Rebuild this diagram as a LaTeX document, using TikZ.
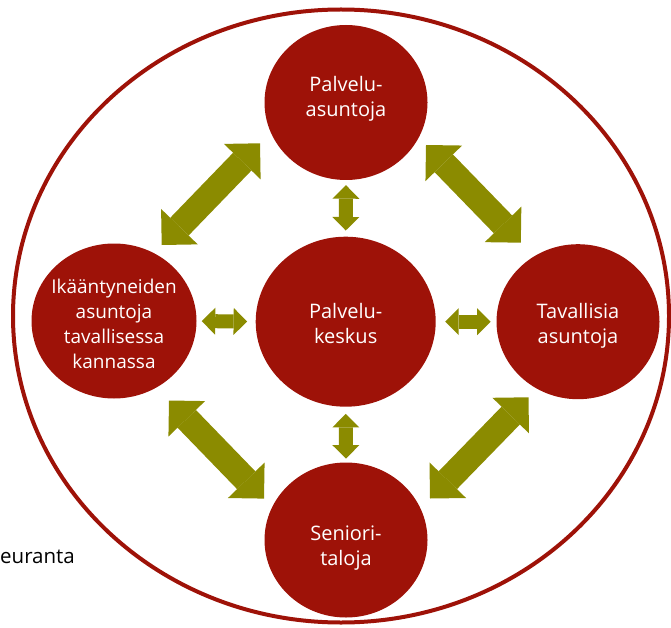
\documentclass[tikz,border=0pt]{standalone}
\usepackage{fontspec}
\setmainfont{Open Sans}
\usetikzlibrary{calc}
\usetikzlibrary{shapes.geometric}
\usetikzlibrary{arrows.meta}

\definecolor{palred}{RGB}{158,18,8}
\definecolor{palolive}{RGB}{139,139,0}

\begin{document}
\begin{tikzpicture}[x=1pt, y=-1pt,
    ring/.style={draw=palred, line width=4pt},
    site/.style={ellipse, fill=palred, text=white, minimum width=163pt, minimum height=155pt, inner sep=0pt, align=center, text depth=0pt, font=\fontsize{20}{25}\selectfont},
    hub/.style={site, minimum width=180pt, minimum height=170pt},
    bigarrow/.style={color=palolive, line width=25.5pt, {Triangle[length=25.5pt,width=51pt,line width=0pt]}-{Triangle[length=25.5pt,width=51pt,line width=0pt]}},
    smallarrow/.style={color=palolive, line width=14pt, {Triangle[length=13.5pt,width=27pt,line width=0pt]}-{Triangle[length=13.5pt,width=27pt,line width=0pt]}}]
      \useasboundingbox (0,0) rectangle (671,628);

      \draw[ring] (341,316) ellipse [x radius=328, y radius=306.5];

      \draw (346,102.5) node[site, text height=29pt] (pasu) {Palvelu-\\asuntoja};
      \draw (345.7,321.7) node[hub, text height=43pt] (pkes) {Palvelu-\\keskus};
      \draw (114,321) node[site, minimum width=165pt, inner sep=-12pt, text height=94pt, font=\fontsize{19}{25}\selectfont] (ikaa) {Ikääntyneiden\\asuntoja\\tavallisessa\\kannassa};
      \draw (578,321.7) node[site, text height=43pt] (tava) {Tavallisia\\asuntoja};
      \draw (346,540) node[site, text height=50pt] (seni) {Seniori-\\taloja};

      \draw (0,563.3) node[anchor=base west, inner sep=0pt, font=\fontsize{20.5}{25}\selectfont] (seur) {euranta};

      \coordinate (a1) at ($(ikaa)+(47.7,-76)$);
      \coordinate (b1) at ($(pasu)+(-86,40.8)$);
      \coordinate (a2) at ($(pasu)+(80,42.5)$);
      \coordinate (b2) at ($(tava)+(-57.2,-79)$);
      \coordinate (a3) at ($(ikaa)+(55,79.5)$);
      \coordinate (b3) at ($(seni)+(-82,-41.4)$);
      \coordinate (a4) at ($(tava)+(-49.5,75.6)$);
      \coordinate (b4) at ($(seni)+(84,-41.5)$);

      \draw[bigarrow] (a1) -- (b1);
      \draw[bigarrow] (a2) -- (b2);
      \draw[bigarrow] (a3) -- (b3);
      \draw[bigarrow] (a4) -- (b4);

      \draw[smallarrow, shorten <=5pt, shorten >=6pt] (pasu.south) -- (pkes.north);
      \draw[smallarrow, shorten <=7pt, shorten >=3.7pt] (pkes.south) -- (seni.north);
      \draw[smallarrow, shorten <=5pt, shorten >=8.4pt] (ikaa.east) -- (pkes.west);
      \draw[smallarrow, shorten <=9.3pt, shorten >=5.7pt] (pkes.east) -- (tava.west);
    \end{tikzpicture}
\end{document}
